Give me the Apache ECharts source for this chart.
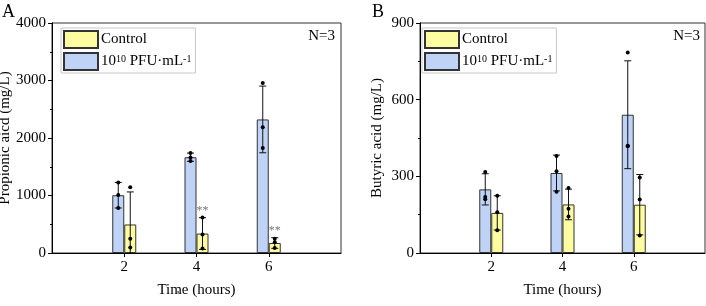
<!DOCTYPE html>
<html lang="en">
<head>
    <meta charset="UTF-8" />
    <title>Propionic / butyric acid</title>
    <script src="https://cdn.jsdelivr.net/npm/echarts@6/dist/echarts.min.js"></script>
</head>
<body style="margin:0;">
<div id="main" style="width: 706px; height: 306px;"></div>
<script type="text/javascript">
    // 数据
    var hours = [2, 4, 6];
    var xTicks = [2, 4, 6];

    // A: propionic acid (mg/L)
    var propCtrl = [496, 338, 174];
    var propCtrlSd = [566, 276, 93];
    var propCtrlPts = [[1143, 250, 94], [617, 321, 77], [250, 185, 87]];
    var propPhage = [1005, 1666, 2323];
    var propPhageSd = [222, 72, 580];
    var propPhagePts = [[1224, 1009, 783], [1739, 1659, 1600], [2957, 2186, 1826]];
    var propSig = ['', '**', '**'];

    // B: butyric acid (mg/L)
    var butCtrl = [157, 190, 189];
    var butCtrlSd = [67, 60, 118];
    var butCtrlPts = [[224, 159, 89], [254, 173, 143], [295, 209, 68]];
    var butPhage = [249, 313, 541];
    var butPhageSd = [61, 70, 211];
    var butPhagePts = [[317, 219, 210], [380, 320, 240], [785, 420, 418]];
    var butSig = ['', '', ''];

    var FONT = 'Liberation Serif';
    var YELLOW = '#fdfca0';
    var BLUE = '#bfd3f6';

    function rows(mean, sd, pts, sig) {
        return hours.map(function (h, i) {
            return [h, mean[i], sd[i], pts[i][0], pts[i][1], pts[i][2], sig[i]];
        });
    }

    // error bar + points, shifted by "off" px from the hour
    function errRender(off) {
        return function (params, api) {
            var x = api.value(0), m = api.value(1), sd = api.value(2);
            var top = api.coord([x, m + sd]);
            var cx = top[0] + off;
            var lo = m - sd;
            var bot = api.coord([x, Math.max(lo, 0)]);
            var st = { stroke: '#111', lineWidth: 1 };
            var kids = [
                { type: 'line', shape: { x1: cx, y1: top[1], x2: cx, y2: bot[1] }, style: st },
                { type: 'line', shape: { x1: cx - 3.5, y1: top[1], x2: cx + 3.5, y2: top[1] }, style: st }
            ];
            if (lo > 0) {
                kids.push({ type: 'line', shape: { x1: cx - 3.5, y1: bot[1], x2: cx + 3.5, y2: bot[1] }, style: st });
            }
            for (var k = 3; k <= 5; k++) {
                var p = api.coord([x, api.value(k)]);
                kids.push({ type: 'circle', shape: { cx: cx, cy: p[1], r: 2 }, style: { fill: '#000' } });
            }
            var s = api.value(6);
            if (s) {
                kids.push({
                    type: 'text',
                    style: {
                        text: s, x: cx, y: top[1] - 7, align: 'center', verticalAlign: 'middle',
                        fill: '#777', font: '12px ' + FONT
                    }
                });
            }
            return { type: 'group', children: kids };
        };
    }

    var axisFont = { fontFamily: FONT, fontSize: 15, color: '#000' };
    function plain(v) { return String(v); }

    function xAx(gi) {
        return {
            type: 'value', gridIndex: gi, min: 0, max: 8, interval: 2,
            name: 'Time (hours)', nameLocation: 'middle', nameGap: 30, nameMoveOverlap: false,
            nameTextStyle: axisFont,
            axisLine: { lineStyle: { color: '#000', width: 1 } },
            axisTick: { show: true, length: 4, customValues: xTicks, lineStyle: { color: '#000' } },
            axisLabel: Object.assign({ margin: 7, customValues: xTicks, formatter: plain }, axisFont),
            splitLine: { show: false }
        };
    }
    function yAx(gi, max, step, name, gap) {
        return {
            type: 'value', gridIndex: gi, min: 0, max: max, interval: step,
            name: name, nameLocation: 'middle', nameGap: gap, nameMoveOverlap: false,
            nameTextStyle: axisFont,
            axisLine: { show: true, lineStyle: { color: '#000', width: 1 } },
            axisTick: { show: true, length: 4, lineStyle: { color: '#000' } },
            minorTick: { show: true, splitNumber: 2, length: 2, lineStyle: { color: '#000' } },
            axisLabel: Object.assign({ margin: 6, formatter: plain }, axisFont),
            splitLine: { show: false }
        };
    }

    function legendFor(left) {
        return {
            left: left, top: 28, orient: 'vertical',
            data: ['Control', 'Phage'],
            icon: 'rect', itemWidth: 34, itemHeight: 17, itemGap: 3,
            padding: [2, 4, 2, 2],
            borderColor: '#c8c8c8', borderWidth: 1,
            formatter: function (n) {
                return n === 'Control' ? '{n|Control}' : '{n|10}{s|10}{n| PFU·mL}{s|-1}';
            },
            textStyle: {
                padding: [0, 0, 0, -2],
                rich: {
                    n: { fontFamily: FONT, fontSize: 15, color: '#000' },
                    s: { fontFamily: FONT, fontSize: 10, color: '#000', verticalAlign: 'top' }
                }
            }
        };
    }

    function barS(name, gi, data, color) {
        return {
            name: name, type: 'bar', xAxisIndex: gi, yAxisIndex: gi,
            barWidth: 12, barGap: '0%',
            data: hours.map(function (h, i) { return [h, data[i]]; }),
            itemStyle: { color: color, borderColor: '#333', borderWidth: 1 }
        };
    }
    function errS(gi, off, data) {
        return {
            type: 'custom', xAxisIndex: gi, yAxisIndex: gi, z: 5,
            renderItem: errRender(off),
            encode: { x: 0, y: 1 },
            data: data
        };
    }

    var myChart = echarts.init(document.getElementById('main'));
    var option = {
        animation: false,
        grid: [
            { left: 52, right: 365, top: 23, bottom: 53, show: true, borderColor: '#333', borderWidth: 1, outerBoundsMode: 'none' },
            { left: 420, right: 1, top: 23, bottom: 53, show: true, borderColor: '#333', borderWidth: 1, outerBoundsMode: 'none' }
        ],
        legend: [legendFor(61), legendFor(422)],
        xAxis: [xAx(0), xAx(1)],
        yAxis: [
            yAx(0, 4000, 1000, 'Propionic aicd (mg/L)', 39),
            yAx(1, 900, 300, 'Butyric acid (mg/L)', 35)
        ],
        series: [
            barS('Phage', 0, propPhage, BLUE),
            barS('Control', 0, propCtrl, YELLOW),
            barS('Phage', 1, butPhage, BLUE),
            barS('Control', 1, butCtrl, YELLOW),
            errS(0, -6, rows(propPhage, propPhageSd, propPhagePts, ['', '', ''])),
            errS(0, 6, rows(propCtrl, propCtrlSd, propCtrlPts, propSig)),
            errS(1, -6, rows(butPhage, butPhageSd, butPhagePts, ['', '', ''])),
            errS(1, 6, rows(butCtrl, butCtrlSd, butCtrlPts, butSig))
        ],
        graphic: [
            { type: 'text', left: 2, top: 3, style: { text: 'A', font: '18px ' + FONT, fill: '#000' } },
            { type: 'text', left: 372, top: 3, style: { text: 'B', font: '18px ' + FONT, fill: '#000' } },
            { type: 'text', right: 371, top: 29, style: { text: 'N=3', font: '15px ' + FONT, fill: '#000' } },
            { type: 'text', right: 6, top: 29, style: { text: 'N=3', font: '15px ' + FONT, fill: '#000' } },
            { type: 'text', left: 177, top: 290, style: { text: "'", font: '12px ' + FONT, fill: '#000' } }
        ]
    };
    myChart.setOption(option);
</script>
</body>
</html>
